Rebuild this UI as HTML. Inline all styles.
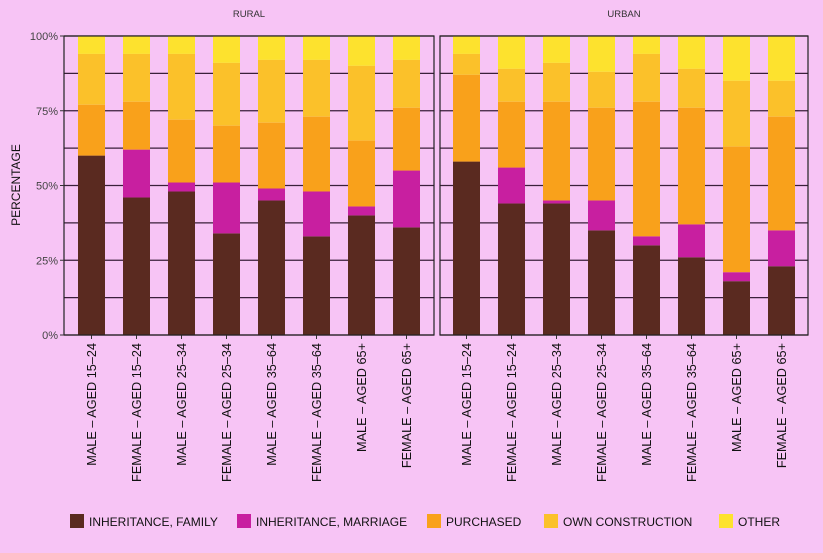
<!DOCTYPE html>
<html><head><style>
body{margin:0;width:823px;height:548px;background:#f7c4f5;font-family:"Liberation Sans",sans-serif;overflow:hidden}
</style></head><body>
<svg width="823" height="548" xmlns="http://www.w3.org/2000/svg" font-family="Liberation Sans, sans-serif">
<rect width="823" height="548" fill="#f7c4f5"/>
<g id="c"></g>
</svg>
<script>
(function(){
const S='http://www.w3.org/2000/svg';const g=document.getElementById('c');
function el(t,a,txt){const e=document.createElementNS(S,t);for(const k in a)e.setAttribute(k,a[k]);if(txt)e.textContent=txt;g.appendChild(e);return e;}
const T=36,B=335,H=299;const y=v=>B-H*v/100;
const cols=['#5a2a20','#c81fa0','#f9a11b','#fbc12a','#fde22e'];
const rural=[[60,60,77,94],[46,62,78,94],[48,51,72,94],[34,51,70,91],[45,49,71,92],[33,48,73,92],[40,43,65,90],[36,55,76,92]];
const urban=[[58,58,87,94],[44,56,78,89],[44,45,78,91],[35,45,76,88],[30,33,78,94],[26,37,76,89],[18,21,63,85],[23,35,73,85]];
const labs=['MALE – AGED 15–24','FEMALE – AGED 15–24','MALE – AGED 25–34','FEMALE – AGED 25–34','MALE – AGED 35–64','FEMALE – AGED 35–64','MALE – AGED 65+','FEMALE – AGED 65+'];
function panel(x0,x1,bx,data,title){
 for(let i=0;i<=8;i++){el('line',{x1:x0,x2:x1,y1:y(i*12.5),y2:y(i*12.5),stroke:'#3a1f3a','stroke-width':1.3});}
 data.forEach((d,i)=>{const x=bx+45*i;const v=[0,...d,100];
  for(let k=0;k<5;k++){if(v[k+1]>v[k])el('rect',{x:x,y:y(v[k+1]),width:27,height:y(v[k])-y(v[k+1]),fill:cols[k]});}
  el('line',{x1:x+13.5,x2:x+13.5,y1:B,y2:B+4,stroke:'#333'});
  el('text',{x:0,y:0,transform:'translate('+(x+18)+',343) rotate(-90)','text-anchor':'end','font-size':12.7,fill:'#111'},labs[i]);
 });
 el('rect',{x:x0,y:T,width:x1-x0,height:H,fill:'none',stroke:'#222','stroke-width':1.2});
 el('text',{x:(x0+x1)/2,y:17,'text-anchor':'middle','font-size':9.5,fill:'#333'},title);
}
panel(64,434,78,rural,'RURAL');panel(440,808,453,urban,'URBAN');
[['0%',0],['25%',25],['50%',50],['75%',75],['100%',100]].forEach(function(p){el('text',{x:58,y:y(p[1])+4,'text-anchor':'end','font-size':11,fill:'#444'},p[0]);el('line',{x1:60,x2:64,y1:y(p[1]),y2:y(p[1]),stroke:'#333'});});
el('text',{x:0,y:0,transform:'translate(20,185) rotate(-90)','text-anchor':'middle','font-size':12,fill:'#111'},'PERCENTAGE');
const leg=[['INHERITANCE, FAMILY',70],['INHERITANCE, MARRIAGE',237],['PURCHASED',427],['OWN CONSTRUCTION',544],['OTHER',719]];
leg.forEach(function(p,i){el('rect',{x:p[1],y:514,width:14,height:14,fill:cols[i]});el('text',{x:p[1]+19,y:526,'font-size':12,fill:'#111'},p[0]);});
})();
</script>
</body></html>
